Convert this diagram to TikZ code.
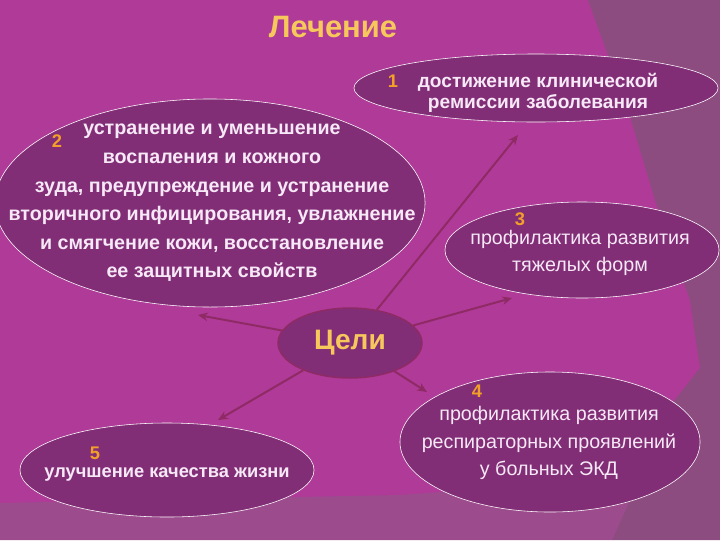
\documentclass[tikz,border=0pt]{standalone}
\usepackage{fontspec}
\setmainfont{Liberation Sans}
\usetikzlibrary{shapes.geometric,arrows.meta}
\definecolor{bg}{RGB}{176,58,152}
\definecolor{oval}{RGB}{130,46,118}
\definecolor{sidefill}{RGB}{140,76,128}
\definecolor{band}{RGB}{156,76,140}
\definecolor{title}{RGB}{246,200,92}
\definecolor{digit}{RGB}{242,160,40}
\definecolor{arrowc}{RGB}{142,42,100}
\definecolor{txt}{RGB}{246,232,246}

\begin{document}
\begin{tikzpicture}[x=0.025cm, y=-0.025cm,
  main/.style = {draw=white, line width=0.4pt, ellipse, fill=oval, inner sep=0pt},
  words/.style = {text=txt, align=center, inner sep=0pt},
  num/.style = {text=digit, font=\bfseries\fontsize{13}{13}\selectfont},
  link/.style = {draw=arrowc, line width=1.4pt, -{Stealth[length=7pt,width=6pt]}}]

\fill[bg] (0,0) rectangle (720,540);
\fill[sidefill] (588,0) -- (720,0) -- (720,540) -- (612,540) -- (655,425) -- (700,368) -- (690,300) -- (655,200) -- (628,110) -- cycle;
\fill[band] (0,503) -- (400,495) -- (640,478) -- (612,540) -- (0,540) -- cycle;
\useasboundingbox (0,0) rectangle (720,540);

\node[text=title, font=\bfseries\fontsize{22}{22}\selectfont] (t) at (333,27) {Лечение};

\node[main, minimum width=9.1cm, minimum height=1.7cm] (1) at (536,88) {};
\node[main, minimum width=10.75cm, minimum height=5.2cm] (2) at (210,203) {};
\node[main, minimum width=6.85cm, minimum height=2.4cm] (3) at (582,250) {};
\node[main, minimum width=7.5cm, minimum height=3.5cm] (4) at (550,442) {};
\node[main, minimum width=7.35cm, minimum height=2.35cm] (5) at (167,470) {};
\node[ellipse, draw=arrowc, line width=1pt, fill=oval, minimum width=3.6cm, minimum height=1.75cm,
  text=title, font=\bfseries\fontsize{20}{20}\selectfont] (0) at (350,343) {Цели};

\node[words, font=\bfseries\fontsize{13.6}{15}\selectfont] (1t) at (538,93) {достижение клинической\\ремиссии заболевания};
\node[words, font=\bfseries\fontsize{14}{20.3}\selectfont] (2t) at (212,203) {устранение и уменьшение\\воспаления и  кожного\\зуда, предупреждение и устранение\\вторичного инфицирования, увлажнение\\и смягчение кожи, восстановление\\ее защитных свойств};
\node[words, font=\fontsize{14}{19.2}\selectfont] (3t) at (580,253) {профилактика развития\\тяжелых форм};
\node[words, font=\fontsize{14}{19.6}\selectfont] (4t) at (549,443) {профилактика развития\\респираторных проявлений\\у больных ЭКД};
\node[words, font=\bfseries\fontsize{13}{15}\selectfont] (5t) at (167,474) {улучшение качества жизни};

\node[num] (n1) at (393,81) {1};
\node[num] (n2) at (57,141) {2};
\node[num] (n3) at (520,219) {3};
\node[num] (n4) at (477,391) {4};
\node[num] (n5) at (95,453) {5};

\coordinate (a1) at (518,135);
\coordinate (a2) at (198,315);
\coordinate (a3) at (512,298);
\coordinate (a4) at (427,392);
\coordinate (a5) at (218,420);

\draw[link] (0) -- (a1);
\draw[link] (0) -- (a2);
\draw[link] (0) -- (a3);
\draw[link] (0) -- (a4);
\draw[link] (0) -- (a5);

\end{tikzpicture}
\end{document}
